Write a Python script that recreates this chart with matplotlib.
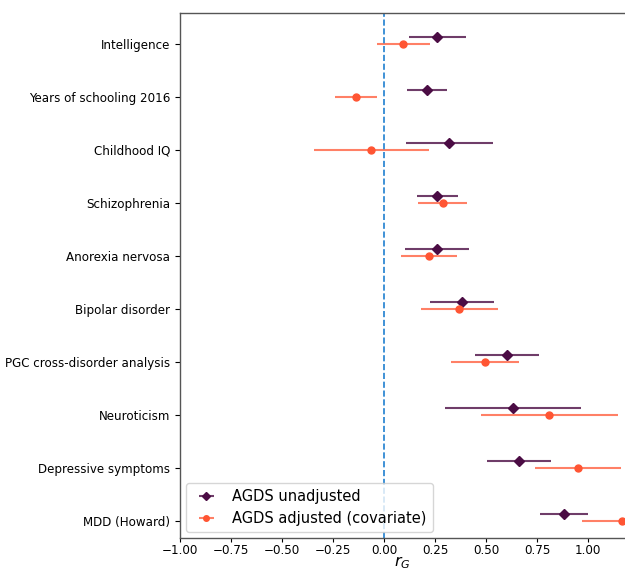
import matplotlib
matplotlib.use("Agg")
import matplotlib.pyplot as plt
import numpy as np

# Genetic correlation estimates
traits = ["Intelligence", "Years of schooling 2016", "Childhood IQ", "Schizophrenia",
          "Anorexia nervosa", "Bipolar disorder", "PGC cross-disorder analysis",
          "Neuroticism", "Depressive symptoms", "MDD (Howard)"]
rg_unadj = [0.26, 0.21, 0.32, 0.26, 0.26, 0.38, 0.60, 0.63, 0.66, 0.88]
se_unadj = [0.14, 0.10, 0.215, 0.10, 0.157, 0.157, 0.157, 0.333, 0.157, 0.117]
rg_adj = [0.093, -0.139, -0.062, 0.286, 0.219, 0.369, 0.495, 0.81, 0.948, 1.165]
se_adj = [0.13, 0.103, 0.28, 0.122, 0.138, 0.19, 0.167, 0.337, 0.21, 0.196]

col_unadj = "#4b0c44"
col_adj = "#ff5533"

fig = plt.figure(figsize=(6.25, 5.71), dpi=100)
ax = fig.add_axes([0.288, 0.058, 0.712, 0.919])

y = np.arange(len(traits))
off = 0.13

eb1 = ax.errorbar(rg_unadj, y - off, xerr=se_unadj, fmt="D", color=col_unadj,
                  markersize=5, elinewidth=1.5, ecolor=col_unadj, label="AGDS unadjusted")
eb1[-1][0].set_alpha(0.8)
eb2 = ax.errorbar(rg_adj, y, xerr=se_adj, fmt="o", color=col_adj,
                  markersize=5, elinewidth=1.5, ecolor=col_adj, label="AGDS adjusted (covariate)")
eb2[-1][0].set_alpha(0.75)

ax.axvline(0, color="#1f7fd0", linestyle="--", linewidth=1.2)

ax.set_yticks(y)
ax.set_yticklabels(traits, fontsize=8.6)
ax.set_ylim(9.32, -0.58)
ax.set_xlim(-1.0, 1.18)
ax.set_xticks(np.arange(-1.0, 1.01, 0.25))
ax.tick_params(axis="x", labelsize=8.6, pad=1.5, length=3)
ax.set_xlabel("$r_G$", fontsize=11.5, labelpad=-2)
ax.spines["right"].set_visible(False)
for s in ["left", "top", "bottom"]:
    ax.spines[s].set_color("#555555")
    ax.spines[s].set_linewidth(1.0)

ax.legend(loc="lower left", fontsize=10.5, borderaxespad=0.4, markerscale=0.8)

plt.savefig("out.png", dpi=100)
